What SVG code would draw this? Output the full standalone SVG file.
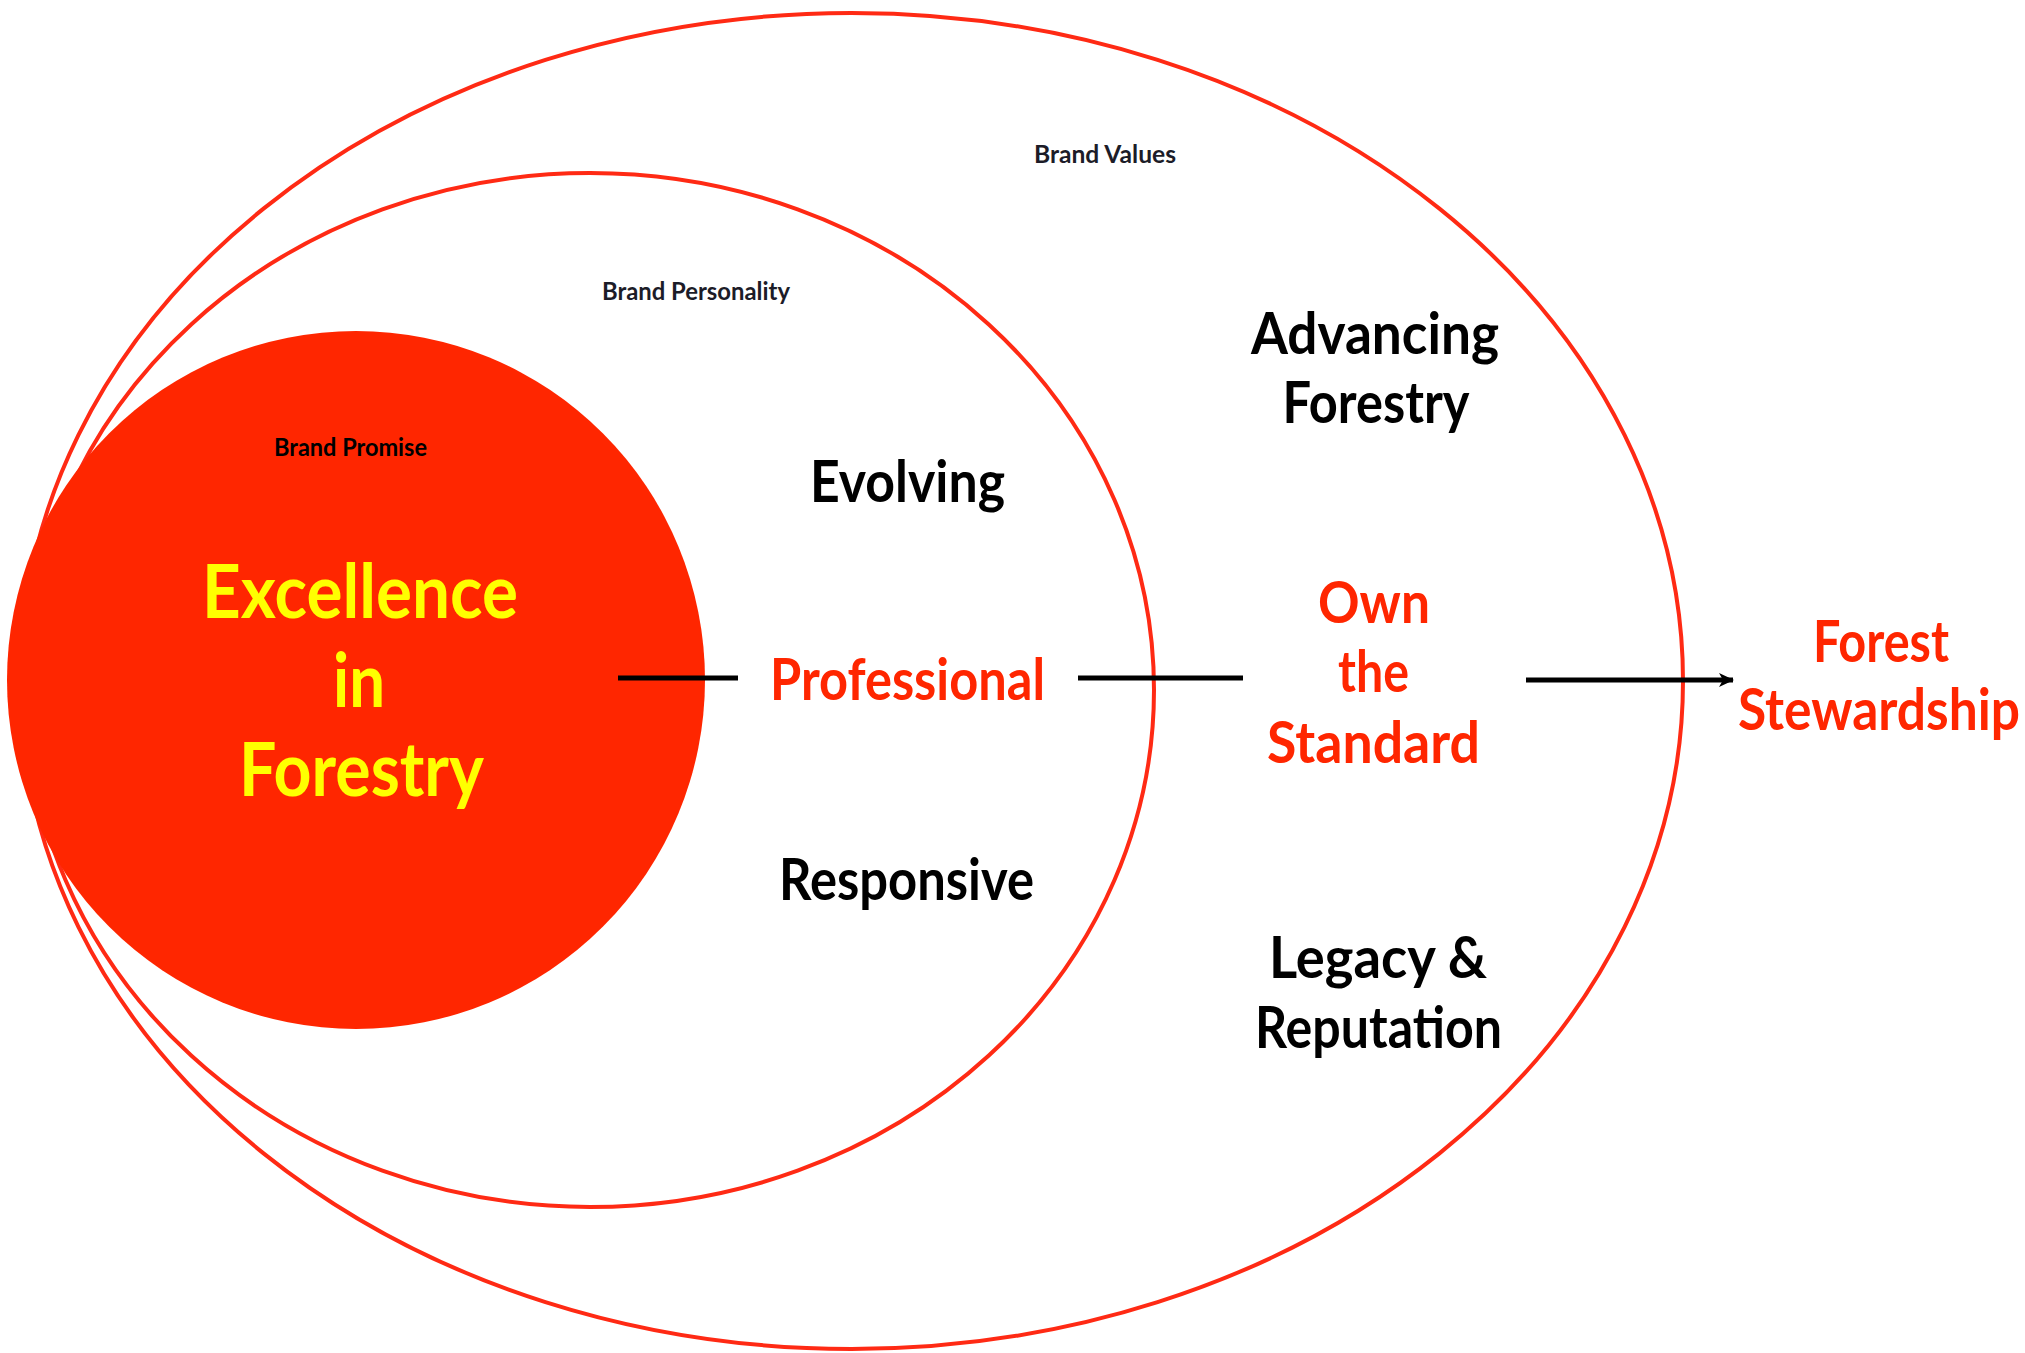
<svg xmlns="http://www.w3.org/2000/svg" width="2025" height="1353" viewBox="0 0 2025 1353">
  <style>
    .ring { fill: none; stroke: #ff2a14; stroke-width: 4; }
    .core { fill: #ff2600; }
    .lbl { font-family: Lato, "Liberation Sans", sans-serif; text-anchor: middle; }
    .small { font-size: 24px; font-weight: 700; fill: #1c1c28; }
    .big { font-size: 57px; font-weight: 700; }
    .huge { font-size: 75px; font-weight: 700; fill: #ffff00; }
    .dark { fill: #000; }
    .hot { fill: #ff2600; }
    .link { stroke: #000; stroke-width: 5; fill: none; }
  </style>
  <defs>
    <marker id="arrowhead" viewBox="0 0 16 14" refX="14" refY="7" markerWidth="16" markerHeight="14" markerUnits="userSpaceOnUse" orient="auto">
      <path d="M0,0 L15,7 L0,14 L4,7 Z" fill="#000"/>
    </marker>
  </defs>

  <rect width="2025" height="1353" fill="#fff"/>

  <!-- Brand Values ring -->
  <g id="brand-values">
    <ellipse class="ring" cx="851.5" cy="681" rx="831.5" ry="668"/>
    <text class="lbl small" x="1105" y="163" textLength="142" lengthAdjust="spacingAndGlyphs">Brand Values</text>
    <text class="lbl big dark" x="1375" y="354" textLength="248" lengthAdjust="spacingAndGlyphs">Advancing</text>
    <text class="lbl big dark" x="1376" y="423" textLength="187" lengthAdjust="spacingAndGlyphs">Forestry</text>
    <text class="lbl big hot" x="1374" y="623" textLength="112" lengthAdjust="spacingAndGlyphs">Own</text>
    <text class="lbl big hot" x="1373.5" y="692" textLength="71" lengthAdjust="spacingAndGlyphs">the</text>
    <text class="lbl big hot" x="1373.5" y="763" textLength="213" lengthAdjust="spacingAndGlyphs">Standard</text>
    <text class="lbl big dark" x="1378" y="978" textLength="218" lengthAdjust="spacingAndGlyphs">Legacy &amp;</text>
    <text class="lbl big dark" x="1378.5" y="1048" textLength="247" lengthAdjust="spacingAndGlyphs">Reputation</text>
  </g>

  <!-- Brand Personality ring -->
  <g id="brand-personality">
    <ellipse class="ring" cx="590" cy="690" rx="564" ry="517"/>
    <text class="lbl small" x="696" y="300" textLength="188" lengthAdjust="spacingAndGlyphs">Brand Personality</text>
    <text class="lbl big dark" x="907.5" y="502" textLength="195" lengthAdjust="spacingAndGlyphs">Evolving</text>
    <text class="lbl big hot" x="907.5" y="700" textLength="275" lengthAdjust="spacingAndGlyphs">Professional</text>
    <text class="lbl big dark" x="906.5" y="900" textLength="255" lengthAdjust="spacingAndGlyphs">Responsive</text>
  </g>

  <!-- Brand Promise core -->
  <g id="brand-promise">
    <circle class="core" cx="356" cy="680" r="349"/>
    <text class="lbl small" x="350.5" y="456" textLength="153" lengthAdjust="spacingAndGlyphs" style="fill:#000">Brand Promise</text>
    <text class="lbl huge" x="360" y="618" textLength="316" lengthAdjust="spacingAndGlyphs">Excellence</text>
    <text class="lbl huge" x="359" y="707" textLength="52" lengthAdjust="spacingAndGlyphs">in</text>
    <text class="lbl huge" x="361.5" y="796" textLength="245" lengthAdjust="spacingAndGlyphs">Forestry</text>
  </g>

  <!-- Outcome -->
  <g id="forest-stewardship">
    <text class="lbl big hot" x="1881" y="662" textLength="136" lengthAdjust="spacingAndGlyphs">Forest</text>
    <text class="lbl big hot" x="1879" y="730" textLength="282" lengthAdjust="spacingAndGlyphs">Stewardship</text>
  </g>

  <!-- Connectors -->
  <g id="connectors">
    <line class="link" x1="618" y1="678" x2="738" y2="678"/>
    <line class="link" x1="1078" y1="678" x2="1243" y2="678"/>
    <line class="link" x1="1526" y1="680" x2="1733" y2="680" marker-end="url(#arrowhead)"/>
  </g>
</svg>
